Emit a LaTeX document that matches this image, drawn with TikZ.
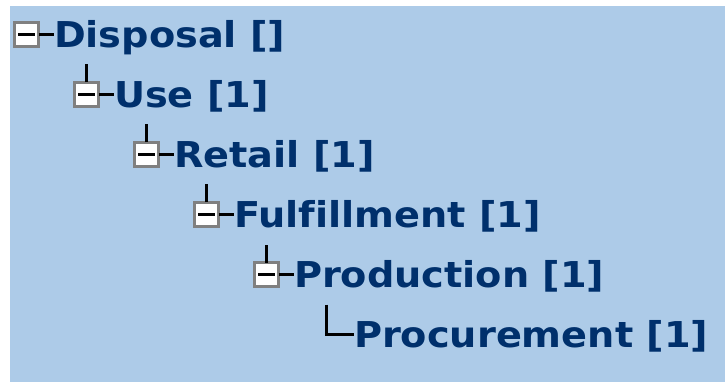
\documentclass[tikz,border=0pt]{standalone}
\usepackage{fontspec}
\setmainfont[FakeStretch=1.075,Ligatures=NoCommon]{DejaVu Sans}
\definecolor{bgblue}{RGB}{173,203,232}
\definecolor{navy}{RGB}{0,48,108}
\definecolor{boxgray}{RGB}{128,128,128}
\begin{document}
\begin{tikzpicture}[x=1pt,y=-1pt,
  treebox/.style={draw=boxgray,line width=3pt,fill=white,minimum size=24pt,inner sep=0pt,outer sep=0pt,
    path picture={\draw[black,line width=3.5pt] ([xshift=-8.5pt]path picture bounding box.center) -- ([xshift=8.5pt]path picture bounding box.center);}},
  label/.style={inner sep=0pt,outer sep=0pt,anchor=base west,text=navy,font=\fontsize{35.6}{40}\bfseries},
  conn/.style={line width=3pt,black}]
\useasboundingbox (0,0) rectangle (725,382);
\fill[white] (0,0) rectangle (725,382);
\fill[bgblue] (10,6) rectangle (725,382);
% boxes
\node[treebox] (b0) at (26.5,34.5) {};
\node[treebox] (b1) at (86.5,94.5) {};
\node[treebox] (b2) at (146.5,154.5) {};
\node[treebox] (b3) at (206.5,214.5) {};
\node[treebox] (b4) at (266.5,274.5) {};
\coordinate (c5) at (326.5,334.5);
% labels
\node[label] (t0) at (54,47.5) {Disposal []};
\node[label] (t1) at (114,107.5) {Use [1]};
\node[label] (t2) at (174,167.5) {Retail [1]};
\node[label] (t3) at (234,227.5) {Fulfillment [1]};
\node[label] (t4) at (294,287.5) {Production [1]};
\node[label] (t5) at (354,347.5) {Procurement [1]};
% horizontal connectors
\draw[conn] (b0.east) -- (b0.east -| t0.west);
\draw[conn] (b1.east) -- (b1.east -| t1.west);
\draw[conn] (b2.east) -- (b2.east -| t2.west);
\draw[conn] (b3.east) -- (b3.east -| t3.west);
\draw[conn] (b4.east) -- (b4.east -| t4.west);
% vertical connectors
\draw[conn] (b1.north) -- ++(0,-18);
\draw[conn] (b2.north) -- ++(0,-18);
\draw[conn] (b3.north) -- ++(0,-18);
\draw[conn] (b4.north) -- ++(0,-18);
\draw[conn] ([yshift=30pt]c5) -- (c5) -- (c5 -| t5.west);
\end{tikzpicture}
\end{document}
